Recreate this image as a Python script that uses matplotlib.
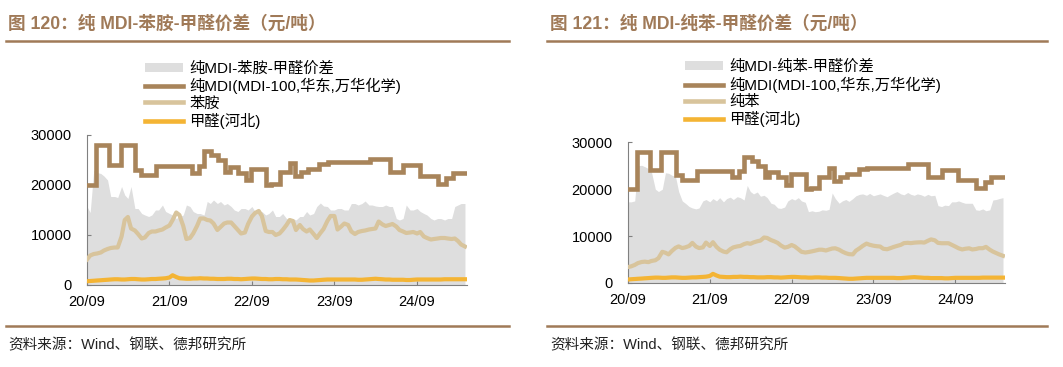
import matplotlib
matplotlib.use("Agg")
import matplotlib.pyplot as plt
import matplotlib.dates as mdates
from matplotlib.patches import Patch
from matplotlib.lines import Line2D
import pandas as pd
import numpy as np

FONT = ['Liberation Sans', 'Noto Sans CJK SC']
plt.rcParams['font.family'] = FONT

# ---------------- data ----------------
dates = pd.date_range('2020-09-01', '2025-04-10', freq='SMS')  # semi-monthly, 111 points
end_date = pd.Timestamp('2025-04-10')

mdi_change_dates = ['2020-09-01', '2020-10-13', '2020-12-07', '2021-01-28', '2021-04-01',
                    '2021-04-30', '2021-07-05', '2021-12-08', '2022-01-09', '2022-01-31',
                    '2022-03-06', '2022-04-04', '2022-05-03', '2022-05-25', '2022-07-01',
                    '2022-08-07', '2022-08-30', '2022-11-04', '2022-11-26', '2023-01-02',
                    '2023-02-15', '2023-03-09', '2023-04-07', '2023-05-06', '2023-06-27',
                    '2023-08-03', '2024-02-04', '2024-05-03', '2024-07-01', '2024-09-13',
                    '2024-12-03', '2025-01-09', '2025-02-07']
mdi_values = [20000, 28000, 24000, 28000, 23000,
              22000, 23800, 22500, 23800, 26800,
              26000, 25000, 22700, 23700, 22500,
              21000, 23200, 20000, 20300, 22600,
              24500, 21800, 22700, 23300, 24300,
              24600, 25300, 22700, 24000, 21900,
              20300, 21500, 22500]

aniline = [5100, 5900, 6200, 6300, 6500, 6900, 7200, 7400, 7500, 7500,
           9700, 13000, 13600, 11300, 10900, 10200, 9300, 9500, 10400, 10700,
           10700, 10900, 11100, 11500, 11900, 13000, 14500, 14000, 11800, 9200,
           9400, 10300, 11800, 13300, 13300, 13000, 12900, 12300, 11000, 11600,
           12300, 12500, 12500, 11800, 11000, 10300, 10500, 12200, 13700, 14400,
           14800, 13800, 10800, 10600, 10600, 10000, 10300, 11000, 12000, 13000,
           12800, 11000, 12000, 11200, 10700, 11100, 10200, 9400, 10400, 11200,
           12800, 13800, 13800, 11100, 11700, 12300, 12000, 10700, 10200, 10600,
           10800, 10900, 11100, 11200, 11300, 12700, 12100, 11800, 12000, 12200,
           11700, 11000, 10700, 10400, 10500, 10600, 10300, 10600, 9700, 9400,
           9100, 9200, 9300, 9400, 9400, 9300, 9200, 9300, 8800, 8100,
           7700]

benzene = [3400, 3550, 3850, 4240, 4480, 4550, 4450, 4700, 4850, 5300,
           6650, 6450, 6100, 6800, 7500, 7800, 7450, 7600, 7900, 8550,
           7770, 7450, 7600, 8620, 7900, 8700, 7700, 7100, 6700, 6550,
           7200, 7600, 7800, 7900, 8300, 8500, 8350, 8650, 8900, 9050,
           9700, 9600, 9150, 8900, 8550, 8000, 7550, 7700, 8100, 7800,
           7200, 6650, 6500, 6600, 6750, 6900, 7100, 7100, 6930, 7150,
           7350, 7400, 7100, 6700, 6350, 6150, 6100, 6900, 7400, 7900,
           8400, 8150, 7950, 7850, 7780, 7300, 7200, 7420, 7700, 7900,
           8130, 8500, 8570, 8500, 8600, 8650, 8680, 8620, 9000, 9300,
           9100, 8550, 8480, 8480, 8480, 8150, 7750, 7400, 7150, 7300,
           7400, 7150, 7250, 7420, 7420, 7700, 7100, 6700, 6400, 6100,
           5800]

formaldehyde = [750, 800, 850, 900, 950, 1000, 1050, 1100, 1150, 1150,
                1100, 1100, 1150, 1200, 1200, 1150, 1100, 1100, 1150, 1200,
                1200, 1250, 1300, 1350, 1500, 1950, 1600, 1350, 1300, 1250,
                1250, 1300, 1300, 1350, 1300, 1300, 1250, 1250, 1200, 1200,
                1200, 1250, 1250, 1200, 1200, 1150, 1200, 1250, 1300, 1300,
                1250, 1200, 1200, 1150, 1150, 1200, 1200, 1150, 1150, 1100,
                1100, 1100, 1050, 1000, 950, 900, 900, 950, 1000, 1050,
                1100, 1100, 1100, 1100, 1100, 1100, 1100, 1100, 1100, 1050,
                1050, 1100, 1150, 1200, 1250, 1200, 1150, 1100, 1100, 1050,
                1050, 1050, 1050, 1000, 1000, 1050, 1100, 1100, 1100, 1100,
                1100, 1100, 1100, 1100, 1150, 1150, 1150, 1150, 1150, 1150,
                1150]

spread_aniline = [15700, 14500, 23000, 22500, 22300, 21800, 21000, 17700, 17700, 17500,
                  19700, 18000, 17300, 19700, 15300, 15300, 14300, 14000, 13700, 14000,
                  15000, 15000, 16000, 14700, 14300, 14000, 13300, 13700, 14000, 16000,
                  15700, 14700, 14300, 14300, 14000, 16700, 16300, 17000, 16300, 16700,
                  16000, 16300, 15700, 15000, 14700, 15300, 15300, 15000, 15700, 14700,
                  14300, 14700, 14000, 14300, 15000, 13700, 13700, 14300, 13300, 13000,
                  13300, 13000, 13700, 13700, 14700, 14000, 14300, 15700, 16400, 15800,
                  15700, 15000, 15000, 15300, 15300, 15000, 15000, 16300, 16300, 16000,
                  16300, 16800, 16000, 16000, 15800, 15700, 15700, 16000, 15700, 15700,
                  13300, 13000, 13300, 16000, 15000, 15000, 15300, 14700, 14300, 14000,
                  13300, 13000, 13300, 13300, 13000, 13300, 13300, 15700, 16000, 16300,
                  16300]

spread_benzene = [17300, 17300, 17500, 25000, 25100, 24800, 24400, 23600, 20000, 19500,
                  20000, 23500, 23400, 23000, 22700, 19500, 17500, 17000, 16300, 16000,
                  15800, 16000, 17500, 17800, 17300, 18000, 17500, 18200, 17300, 18000,
                  18300, 17800, 18400, 18200, 17700, 20800, 19500, 19000, 19400, 18500,
                  18700, 18200, 17000, 16800, 16000, 15900, 16200, 17500, 18000, 17700,
                  18200, 17500, 17200, 15200, 15400, 15200, 15300, 15600, 15500, 15700,
                  19200, 18000, 17000, 17500, 17800, 17400, 18000, 18600, 18900, 19000,
                  18700, 19100, 18600, 18800, 19000, 18700, 18400, 18800, 19200, 19500,
                  19000, 18800, 19300, 18900, 18700, 19000, 18800, 18500, 18900, 18600,
                  18700, 16500, 16300, 16600, 16500, 17300, 17300, 17500, 17200, 17000,
                  17000, 17000, 15600, 15500, 15800, 15400, 15600, 17700, 17800, 18000,
                  18200]

tick_dates = ['2020-09-01', '2021-09-01', '2022-09-01', '2023-09-01', '2024-09-01']
tick_labels = ['20/09', '21/09', '22/09', '23/09', '24/09']
y_ticks = [0, 10000, 20000, 30000]

panels = [
    dict(title='图 120：纯 MDI-苯胺-甲醛价差（元/吨）',
         spread=spread_aniline, raw=aniline,
         labels=['纯MDI-苯胺-甲醛价差', '纯MDI(MDI-100,华东,万华化学)', '苯胺', '甲醛(河北)']),
    dict(title='图 121：纯 MDI-纯苯-甲醛价差（元/吨）',
         spread=spread_benzene, raw=benzene,
         labels=['纯MDI-纯苯-甲醛价差', '纯MDI(MDI-100,华东,万华化学)', '纯苯', '甲醛(河北)']),
]

# ---------------- style ----------------
C_MDI = '#A8845A'
C_RAW = '#D8C49C'
C_HCHO = '#F4B434'
C_FILL = '#DEDEDE'
C_HEAD = '#A07A58'
C_AX = '#808080'

W, H = 1063, 367
fig = plt.figure(figsize=(W / 100, H / 100), dpi=100)

def fx(px):
    return px / W

def fy(py):
    return 1 - py / H

axes_px = [(87, 135, 467, 285), (628, 142.3, 1005, 283)]
head_px = [(8, 6, 509), (550, 547, 1047)]
legend_px = [(145, 61.5), (685, 60)]

mdi_x = list(pd.to_datetime(mdi_change_dates)) + [end_date]
mdi_y = mdi_values + [mdi_values[-1]]

for k, p in enumerate(panels):
    x0, y0, x1, y1 = axes_px[k]
    ax = fig.add_axes([fx(x0), fy(y1), fx(x1 - x0), (y1 - y0) / H])
    ax.fill_between(dates, 0, p['spread'], color=C_FILL, lw=0, zorder=1)
    ax.plot(mdi_x, mdi_y, drawstyle='steps-post', color=C_MDI, lw=3.3, zorder=3,
            solid_joinstyle='miter')
    ax.plot(dates, p['raw'], color=C_RAW, lw=3, zorder=3)
    ax.plot(dates, formaldehyde, color=C_HCHO, lw=3, zorder=3)

    ax.set_xlim(pd.Timestamp('2020-09-01'), end_date)
    ax.set_ylim(0, 30000)
    ax.set_xticks(pd.to_datetime(tick_dates))
    ax.set_xticklabels(tick_labels)
    ax.set_yticks(y_ticks)
    ax.set_yticklabels([str(v) for v in y_ticks])
    for s in ['top', 'right']:
        ax.spines[s].set_visible(False)
    for s in ['left', 'bottom']:
        ax.spines[s].set_color(C_AX)
        ax.spines[s].set_linewidth(0.8)
    ax.tick_params(axis='both', direction='in', length=3, color=C_AX, width=0.8,
                   labelsize=10.5, labelcolor='#000000')
    ax.tick_params(axis='y', pad=11)
    ax.tick_params(axis='x', pad=7)
    ax.patch.set_alpha(0)

    handles = [Patch(facecolor=C_FILL, edgecolor='none'),
               Line2D([], [], color=C_MDI, lw=3.3),
               Line2D([], [], color=C_RAW, lw=3.3),
               Line2D([], [], color=C_HCHO, lw=3.3)]
    lx, ly = legend_px[k]
    leg = ax.legend(handles, p['labels'], loc='upper left',
                    bbox_to_anchor=(fx(lx), fy(ly)), bbox_transform=fig.transFigure,
                    frameon=False, borderpad=0, borderaxespad=0, handlelength=2.5,
                    handleheight=0.55, handletextpad=0.4, labelspacing=0.14,
                    prop={'family': FONT, 'size': 11})

    tx, lx0, lx1 = head_px[k]
    fig.text(fx(tx), fy(24), p['title'], fontsize=12.7, fontweight='bold',
             color=C_HEAD, va='center', ha='left', family=FONT)
    fig.add_artist(Line2D([fx(lx0), fx(lx1)], [fy(41), fy(41)], color=C_HEAD, lw=1.8))
    fig.add_artist(Line2D([fx(lx0), fx(lx1)], [fy(326), fy(326)], color=C_HEAD, lw=1.8))
    fig.text(fx(tx), fy(345), '资料来源：Wind、钢联、德邦研究所', fontsize=10.5,
             color='#222222', va='center', ha='left', family=FONT)

fig.savefig('out.png', dpi=100)
